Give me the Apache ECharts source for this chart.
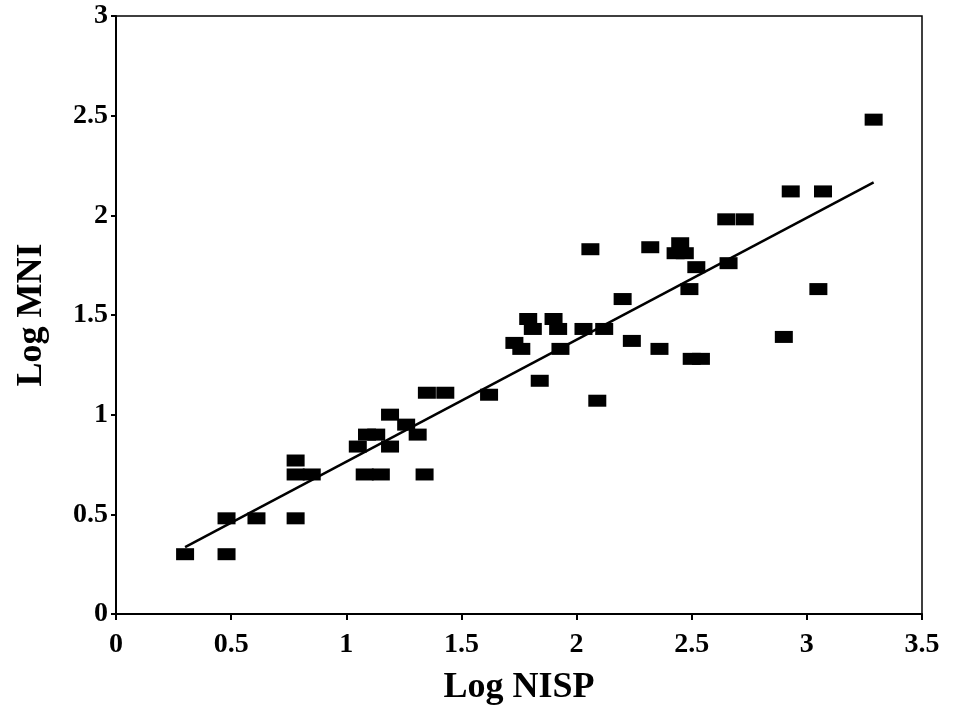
<!DOCTYPE html>
<html>
<head>
<meta charset="utf-8">
<script src="https://cdn.jsdelivr.net/npm/echarts@6/dist/echarts.min.js"></script>
<style>
html,body{margin:0;padding:0;background:#fff;}
#chart{width:953px;height:706px;}
</style>
</head>
<body>
<div id="chart"></div>
<script>
// Log NISP (x) and Log MNI (y) values
var logNISP = [0.30,0.48,0.48,0.61,0.78,0.78,0.78,0.85,1.05,1.09,1.13,1.08,1.15,1.19,1.19,1.26,1.31,1.34,1.35,1.43,1.62,1.73,1.76,1.79,1.81,1.84,1.90,1.92,1.93,2.03,2.06,2.09,2.12,2.20,2.24,2.32,2.36,2.43,2.45,2.47,2.49,2.50,2.52,2.54,2.65,2.66,2.73,2.90,2.93,3.05,3.07,3.29];
var logMNI  = [0.30,0.30,0.48,0.48,0.48,0.77,0.70,0.70,0.84,0.90,0.90,0.70,0.70,0.84,1.00,0.95,0.90,0.70,1.11,1.11,1.10,1.36,1.33,1.48,1.43,1.17,1.48,1.43,1.33,1.43,1.83,1.07,1.43,1.58,1.37,1.84,1.33,1.81,1.86,1.81,1.63,1.28,1.74,1.28,1.98,1.76,1.98,1.39,2.12,1.63,2.12,2.48];
// fitted line end points
var fitX = [0.30, 3.29];
var fitY = [0.335, 2.165];
var xTicks = [0, 0.5, 1, 1.5, 2, 2.5, 3, 3.5];
var yTicks = [0, 0.5, 1, 1.5, 2, 2.5, 3];

var points = logNISP.map(function(x,i){return [x, logMNI[i]];});
var fit = fitX.map(function(x,i){return [x, fitY[i]];});

var font = '"Liberation Serif","Times New Roman",serif';
var chart = echarts.init(document.getElementById('chart'), null, {renderer:'canvas'});
chart.setOption({
  animation:false,
  backgroundColor:'#fff',
  grid:{left:116, right:31, top:16, bottom:92, containLabel:false, outerBoundsMode:'none',
    show:true, borderColor:'#000', borderWidth:1.5, backgroundColor:'transparent'},
  xAxis:{
    type:'value', min:xTicks[0], max:xTicks[xTicks.length-1], interval:0.5,
    name:'Log NISP', nameLocation:'middle', nameGap:56,
    nameTextStyle:{fontFamily:font, fontWeight:'bold', fontSize:36, color:'#000'},
    axisLine:{lineStyle:{color:'#000', width:2}},
    axisTick:{show:true, inside:false, length:6, lineStyle:{color:'#000', width:2}},
    axisLabel:{fontFamily:font, fontWeight:'bold', fontSize:28, color:'#000', margin:17,
      formatter:function(v){return String(v);}},
    splitLine:{show:false}
  },
  yAxis:{
    type:'value', min:yTicks[0], max:yTicks[yTicks.length-1], interval:0.5,
    name:'Log MNI', nameLocation:'middle', nameGap:66,
    nameTextStyle:{fontFamily:font, fontWeight:'bold', fontSize:36, color:'#000'},
    axisLine:{lineStyle:{color:'#000', width:2}},
    axisTick:{show:true, inside:false, length:5, lineStyle:{color:'#000', width:2}},
    axisLabel:{fontFamily:font, fontWeight:'bold', fontSize:28, color:'#000', margin:8,
      formatter:function(v){return String(v);}},
    splitLine:{show:false}
  },
  series:[
    {type:'line', data:fit, symbol:'none', lineStyle:{color:'#000', width:2.5}, z:2},
    {type:'scatter', data:points, symbol:'rect', symbolSize:[18,12], itemStyle:{color:'#000', opacity:1}, z:3}
  ]
});
</script>
</body>
</html>
